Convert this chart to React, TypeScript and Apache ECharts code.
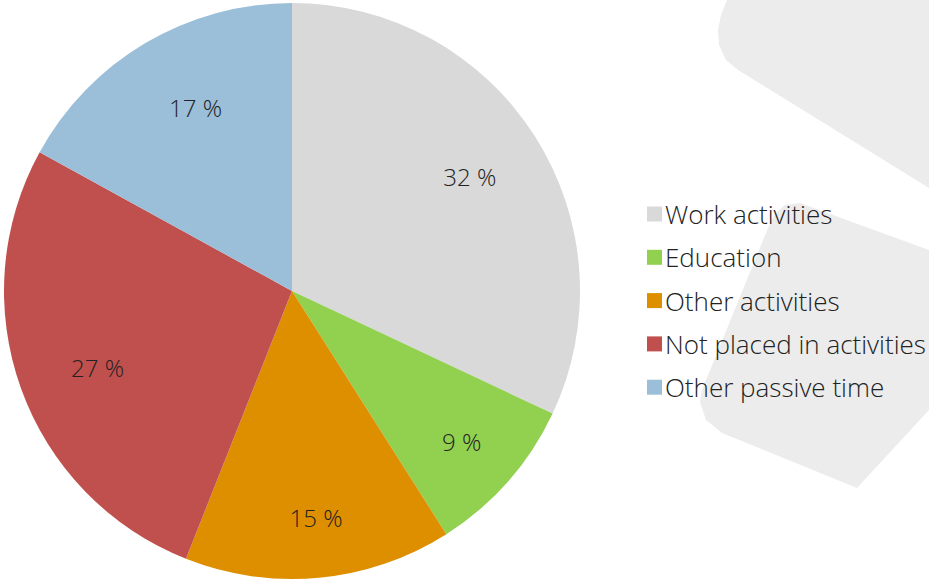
import React, { useEffect, useRef } from "react";
import * as echarts from "echarts";

const categories = ["Work activities", "Education", "Other activities", "Not placed in activities", "Other passive time"];
const values = [32, 9, 15, 27, 17];
const colors = ["#d9d9d9", "#92d050", "#dd8f00", "#c0504d", "#9bbfd8"];
const labelOffsets = [[-2, 0], [10, 10], [4, 14], [6, 4], [12, 0]];

export default function App() {
  const ref = useRef<HTMLDivElement>(null);
  useEffect(() => {
    if (!ref.current) return;
    const chart = echarts.init(ref.current, null, { renderer: "svg" });
    const data = categories.map((name, i) => ({ name, value: values[i], itemStyle: { color: colors[i] } }));
    chart.setOption({
      animation: false,
      backgroundColor: "#ffffff",
      graphic: [
        {
          type: "polygon",
          z: -10,
          shape: {
            points: [[727, 0], [929, 0], [929, 188], [738, 70], [726, 60], [719, 45], [718, 30], [721, 15]],
          },
          style: { fill: "#ececec" },
        },
        {
          type: "polygon",
          z: -10,
          shape: {
            points: [[785, 205], [800, 203], [929, 250], [929, 410], [857, 488], [722, 433], [706, 420], [700, 402], [702, 390], [768, 228], [775, 214]],
          },
          style: { fill: "#ececec" },
        },
      ],
      legend: {
        orient: "vertical",
        left: 647,
        top: 201,
        padding: 0,
        itemWidth: 15,
        itemHeight: 15,
        itemGap: 17.3,
        icon: "rect",
        textStyle: { fontFamily: "Open Sans", fontWeight: 300, fontSize: 26, color: "#222222", padding: [0, 0, 0, -2] },
        data: categories,
      },
      series: [
        {
          type: "pie",
          center: [292, 291],
          radius: [0, 288],
          startAngle: 90,
          clockwise: true,
          label: { show: false },
          labelLine: { show: false },
          emphasis: { disabled: true },
          data,
        },
        {
          type: "pie",
          center: [292, 291],
          radius: [132, 288],
          startAngle: 90,
          clockwise: true,
          silent: true,
          itemStyle: { color: "rgba(0,0,0,0)" },
          label: {
            show: true,
            position: "inside",
            formatter: (p: any) => `${p.value} %`,
            fontFamily: "Open Sans",
            fontWeight: 300,
            fontSize: 24,
            color: "#222222",
          },
          labelLine: { show: false },
          emphasis: { disabled: true },
          legendHoverLink: false,
          data: categories.map((name, i) => ({
            name: name + " ",
            value: values[i],
            itemStyle: { color: "rgba(0,0,0,0)" },
            label: { offset: labelOffsets[i] },
          })),
        },
      ],
    });
    return () => chart.dispose();
  }, []);
  return <div ref={ref} style={{ width: 929, height: 580, position: "absolute", left: 0, top: 0 }} />;
}
